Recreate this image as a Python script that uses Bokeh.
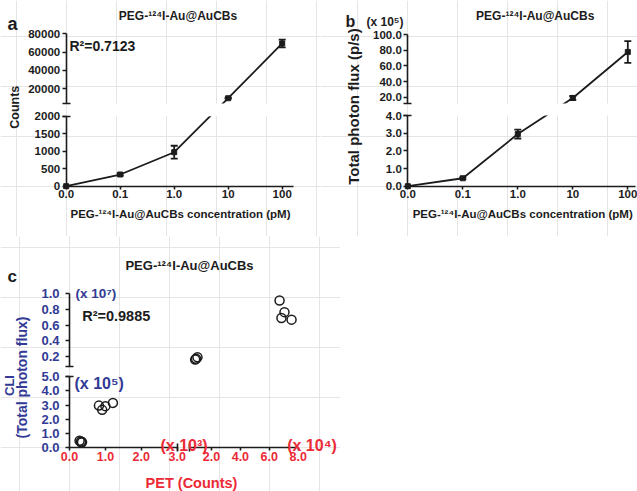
import math
from bokeh.plotting import figure
from bokeh.models import (Range1d, LinearAxis, FixedTicker, Label, BoxAnnotation,
                          PrintfTickFormatter, BasicTickFormatter)
from bokeh.layouts import column, row
from bokeh.embed import file_html
from bokeh.resources import INLINE

FONT = "Liberation Sans"
BLUE = "#323a96"
RED = "#ec2a36"
INK = "#1c1c1c"

# ---------------- data ----------------
conc_labels = ["0.0", "0.1", "1.0", "10", "100"]          # PEG-124I-Au@AuCBs (pM)
pet_mean = [0, 334, 971, 9750, 69500]                     # counts
pet_sd = [0, 30, 185, 500, 4200]
cli_mean = [0.0, 0.45, 2.95, 19.0, 78.0]                  # x10^5 p/s
cli_sd = [0.0, 0.05, 0.25, 2.5, 14.0]
corr_pet = [280, 320, 350, 330, 820, 910, 1000, 1210,
            8700, 9300, 10300, 67100, 70500, 68400, 75400]            # counts
corr_cli = [0.50e5, 0.45e5, 0.40e5, 0.37e5, 2.96e5, 2.66e5, 2.92e5, 3.15e5,
            0.160e7, 0.172e7, 0.190e7, 0.915e7, 0.766e7, 0.690e7, 0.670e7]  # p/s
r2_a = "0.7123"
r2_c = "0.9885"
title = "PEG-\u00b9\u00b2\u2074I-Au@AuCBs"

# ------------- broken-axis scales: (value0, value1, pixel0, pixel1) -------------
A_X = [(0, 4.2, 0, 4.2 * 54)]
A_Y = [(0, 2000, 0, 70.0), (4000, 80000, 82.7, 152.4)]
B_X = [(0, 4.14, 0, 4.14 * 55)]
B_Y = [(0, 4, 0, 70.7), (12, 100, 82.8, 151.4)]
C_X = [(0, 3000, 0, 107.7), (5000, 80000, 120.3, 228.7)]
C_Y = [(0, 5e5, 0, 71.3), (0.072e7, 1.0e7, 81.3, 154.0)]


def fwd(v, segs):
    for i, (v0, v1, d0, d1) in enumerate(segs):
        if v <= v1 or i == len(segs) - 1:
            return d0 + (v - v0) * (d1 - d0) / (v1 - v0)


def make_fig(px, py, w, h, ox, oy):
    p = figure(width=w, height=h,
               x_range=Range1d(px - ox, px + w - ox),
               y_range=Range1d(oy - (py + h), oy - py),
               output_backend="svg", toolbar_location=None,
               x_axis_location=None, y_axis_location=None, min_border=0,
               background_fill_color="white", border_fill_color="white")
    p.outline_line_color = None
    return p, (ox, oy)


def text(p, org, x, y, s, size, color=INK, align="left", baseline="alphabetic", angle=0.0):
    ox, oy = org
    p.add_layout(Label(x=x - ox, y=oy - y, text=s, text_font=FONT, text_font_style="bold",
                       text_font_size=f"{size}px", text_color=color, text_align=align,
                       text_baseline=baseline, angle=angle))


def seg_axis(p, dim, name, seg, scale, ticks, fmt, color, size, tick_out, standoff,
             overrides=None, caps=()):
    v0, v1, d0, d1 = seg
    rng = p.y_range if dim == "y" else p.x_range
    k = (v1 - v0) / (d1 - d0)
    r = Range1d(start=(v0 + (rng.start - d0) * k) / scale, end=(v0 + (rng.end - d0) * k) / scale)
    if dim == "y":
        p.extra_y_ranges = dict(p.extra_y_ranges, **{name: r})
        kw = {"y_range_name": name}
        side = "left"
    else:
        p.extra_x_ranges = dict(p.extra_x_ranges, **{name: r})
        kw = {"x_range_name": name}
        side = "below"
    common = dict(fixed_location=0, bounds=(v0 / scale, v1 / scale),
                  major_tick_line_color=INK, major_tick_line_width=1.6,
                  minor_tick_line_color=None,
                  major_label_text_font=FONT, major_label_text_font_style="bold",
                  major_label_text_font_size=f"{size}px", major_label_text_color=color, **kw)
    ax = LinearAxis(ticker=FixedTicker(ticks=ticks), formatter=fmt,
                    axis_line_color=INK, axis_line_width=1.6,
                    major_tick_in=0, major_tick_out=tick_out,
                    major_label_standoff=standoff, **common)
    if overrides:
        ax.major_label_overrides = overrides
    p.add_layout(ax, side)
    if caps:
        cap = LinearAxis(ticker=FixedTicker(ticks=[c / scale for c in caps]),
                         axis_line_color=None, major_tick_in=4, major_tick_out=4,
                         major_label_text_alpha=0, **common)
        p.add_layout(cap, side)


def dose_panel(p, org, xsegs, ysegs, means, sds, gap):
    xs = [fwd(i, xsegs) for i in range(len(means))]
    ys = [fwd(m, ysegs) for m in means]
    p.line(xs, ys, line_color=INK, line_width=1.8)
    p.add_layout(BoxAnnotation(bottom=gap[0], top=gap[1], left=1, right=xs[-1] + 20,
                               fill_color="white", fill_alpha=1.0, line_color=None,
                               level="glyph"))
    ex = [x for x, s in zip(xs, sds) if s > 0]
    lo = [fwd(m - s, ysegs) for m, s in zip(means, sds) if s > 0]
    hi = [fwd(m + s, ysegs) for m, s in zip(means, sds) if s > 0]
    p.segment(ex, lo, ex, hi, line_color=INK, line_width=1.8)
    p.scatter(ex + ex, lo + hi, marker="dash", size=7, line_color=INK, line_width=1.8)
    p.scatter(xs, ys, marker="square", size=5, fill_color=INK, line_color=INK)


# ================= panel a =================
pa, oa = make_fig(0, 0, 320, 236, 65.7, 185.7)
dose_panel(pa, oa, A_X, A_Y, pet_mean, pet_sd, (A_Y[0][3], A_Y[1][2]))
idx_labels = {i: s for i, s in enumerate(conc_labels)}
seg_axis(pa, "x", "ax", A_X[0], 1, list(range(len(conc_labels))), BasicTickFormatter(),
         INK, 11.5, 3, 1, overrides=idx_labels)
seg_axis(pa, "y", "ay0", A_Y[0], 1, [0, 500, 1000, 1500, 2000], BasicTickFormatter(),
         INK, 11.5, 4, 2, caps=[2000])
seg_axis(pa, "y", "ay1", A_Y[1], 1, [20000, 40000, 60000, 80000], BasicTickFormatter(),
         INK, 11.5, 4, 2, caps=[4000])
text(pa, oa, 7, 23, "a", 18)
text(pa, oa, 177.5, 15, title, 12, align="center")
text(pa, oa, 69, 45, "R\u00b2=" + r2_a, 14)
text(pa, oa, 14, 106.7, "Counts", 12.5, align="center", baseline="middle", angle=math.pi / 2)
text(pa, oa, 180, 213, title + " concentration (pM)", 11.5, align="center")

# ================= panel b =================
pb, ob = make_fig(320, 0, 317, 236, 407.3, 185.7)
dose_panel(pb, ob, B_X, B_Y, cli_mean, cli_sd, (B_Y[0][3], B_Y[1][2]))
seg_axis(pb, "x", "bx", B_X[0], 1, list(range(len(conc_labels))), BasicTickFormatter(),
         INK, 11.5, 3, 1, overrides=idx_labels)
seg_axis(pb, "y", "by0", B_Y[0], 1, [0, 1, 2, 3, 4], PrintfTickFormatter(format="%.1f"),
         INK, 11.5, 4, 2, caps=[4])
seg_axis(pb, "y", "by1", B_Y[1], 1, [20, 40, 60, 80, 100], PrintfTickFormatter(format="%.1f"),
         INK, 11.5, 4, 2, caps=[12])
text(pb, ob, 345, 21, "b", 16)
text(pb, ob, 366, 21, "(x 10\u2075)", 12)
text(pb, ob, 534.7, 15, title, 12, align="center")
text(pb, ob, 353.3, 106, "Total photon flux (p/s)", 15, align="center", baseline="middle",
     angle=math.pi / 2)
text(pb, ob, 522.2, 213, title + " concentration (pM)", 11.5, align="center")

# ================= panel c =================
pc, oc = make_fig(0, 236, 340, 255, 69, 447.3)
cx = [fwd(v, C_X) for v in corr_pet]
cy = [fwd(v, C_Y) for v in corr_cli]
pc.scatter(cx, cy, marker="circle", size=9, fill_color=None, line_color=INK, line_width=1.5)
seg_axis(pc, "x", "cx0", C_X[0], 1e3, [0, 1, 2, 3], PrintfTickFormatter(format="%.1f"),
         RED, 12.5, 3, 1, caps=[3000])
seg_axis(pc, "x", "cx1", C_X[1], 1e4, [2, 4, 6, 8], PrintfTickFormatter(format="%.1f"),
         RED, 12.5, 3, 1, caps=[5000])
seg_axis(pc, "y", "cy0", C_Y[0], 1e5, [0, 1, 2, 3, 4, 5], PrintfTickFormatter(format="%.1f"),
         BLUE, 13, 4, 6, caps=[5e5])
seg_axis(pc, "y", "cy1", C_Y[1], 1e7, [0.2, 0.4, 0.6, 0.8, 1.0], PrintfTickFormatter(format="%.1f"),
         BLUE, 13, 4, 6, caps=[0.072e7])
text(pc, oc, 7, 276, "c", 17)
text(pc, oc, 189, 265, title, 13, align="center")
text(pc, oc, 75, 293, "(x 10\u2077)", 13.5, color=BLUE)
text(pc, oc, 81.7, 315, "R\u00b2=" + r2_c, 14.5)
text(pc, oc, 74, 383, "(x 10\u2075)", 16, color=BLUE)
text(pc, oc, 160, 445, "(x 10\u00b3)", 16, color=RED)
text(pc, oc, 286.7, 445, "(x 10\u2074)", 16, color=RED)
text(pc, oc, 191, 482, "PET (Counts)", 14.5, color=RED, align="center")
text(pc, oc, 9, 385, "CLI", 13, color=BLUE, align="center", baseline="middle",
     angle=math.pi / 2)
text(pc, oc, 21.5, 377, "(Total photon flux)", 14, color=BLUE, align="center",
     baseline="middle", angle=math.pi / 2)

layout = column(row(pa, pb), pc)
open("out.html", "w").write(file_html(layout, INLINE))
